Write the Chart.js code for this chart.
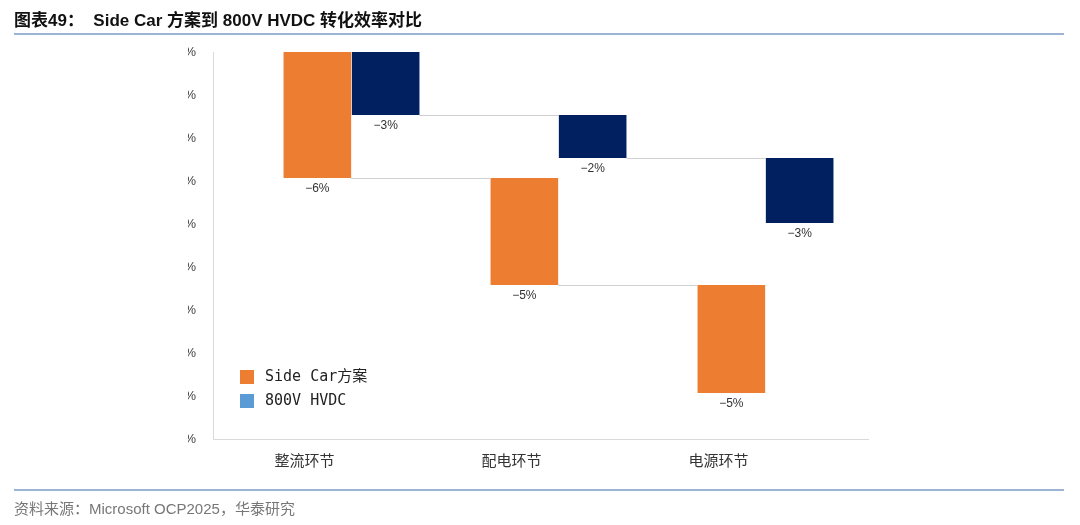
<!DOCTYPE html>
<html><head><meta charset="utf-8">
<script src="https://cdn.jsdelivr.net/npm/chart.js@4"></script>
<style>
body{margin:0;background:#fff;font-family:"Liberation Sans","Noto Sans CJK SC",sans-serif;}
#wrap{position:relative;width:1080px;height:525px;}
#title{position:absolute;left:14px;top:6px;font-size:17px;font-weight:bold;color:#111;}
.rule{position:absolute;left:14px;width:1050px;height:2px;background:#9db3d2;}
#src{position:absolute;left:14px;top:497px;font-size:15px;color:#777;}
canvas{position:absolute;left:0;top:0;}
</style></head><body>
<div id="wrap">
<canvas id="c" width="1080" height="525"></canvas>
<div id="title">图表49：&nbsp; Side Car 方案到 800V HVDC 转化效率对比</div>
<div class="rule" style="top:33px"></div>
<div class="rule" style="top:489px"></div>
<div id="src">资料来源：Microsoft OCP2025，华泰研究</div>
</div>
<script>
const categories = ['整流环节', '配电环节', '电源环节'];
const sideCarSteps = [-5.86, -4.98, -5.02];
const hvdcSteps = [-2.93, -2.0, -3.02];
const sideCarLabels = ['-6%', '-5%', '-5%'];
const hvdcLabels = ['-3%', '-2%', '-3%'];

const AXIS_X = 213; // y axis line sits left of the plot area, as in the source chart
const LABEL_SHIFT = -47; // category labels sit left of the bar groups

function floating(steps) {
  let cur = 0;
  return steps.map(s => { const r = [cur, cur + s]; cur += s; return r; });
}
const sideCarData = floating(sideCarSteps);
const hvdcData = floating(hvdcSteps);

const extras = {
  id: 'extras',
  afterDatasetsDraw(chart) {
    const ctx = chart.ctx;
    const y = chart.scales.y, x = chart.scales.x;
    const area = chart.chartArea;
    ctx.save();
    // axis lines
    ctx.strokeStyle = '#d9d9d9';
    ctx.lineWidth = 1;
    ctx.beginPath();
    ctx.moveTo(AXIS_X + 0.5, area.top);
    ctx.lineTo(AXIS_X + 0.5, area.bottom + 0.5);
    ctx.lineTo(area.right, area.bottom + 0.5);
    ctx.stroke();
    // connectors
    ctx.strokeStyle = '#d0d0d0';
    [0, 1].forEach(di => {
      const meta = chart.getDatasetMeta(di);
      const data = di === 0 ? sideCarData : hvdcData;
      for (let i = 0; i < data.length - 1; i++) {
        const a = meta.data[i], b = meta.data[i + 1];
        const yy = Math.round(y.getPixelForValue(data[i][1])) + 0.5;
        ctx.beginPath();
        ctx.moveTo(a.x + a.width / 2, yy);
        ctx.lineTo(b.x - b.width / 2, yy);
        ctx.stroke();
      }
    });
    // value labels
    ctx.fillStyle = '#333';
    ctx.font = '12px "Liberation Sans Narrow", "Liberation Sans", sans-serif';
    ctx.textAlign = 'center';
    ctx.textBaseline = 'top';
    [0, 1].forEach(di => {
      const meta = chart.getDatasetMeta(di);
      const data = di === 0 ? sideCarData : hvdcData;
      const labels = di === 0 ? sideCarLabels : hvdcLabels;
      meta.data.forEach((bar, i) => {
        ctx.fillText(labels[i].replace('-', '−'), bar.x, y.getPixelForValue(data[i][1]) + 5);
      });
    });
    // category labels
    ctx.font = '15px "Noto Sans CJK SC", sans-serif';
    ctx.fillStyle = '#333';
    categories.forEach((c, i) => {
      ctx.fillText(c, x.getPixelForValue(i) + LABEL_SHIFT, area.bottom + 14);
    });
    // legend
    const lx = AXIS_X + 27, ly = area.top + 318;
    ctx.font = '15px "DejaVu Sans Mono", "Noto Sans CJK SC", monospace';
    ctx.textAlign = 'left';
    ctx.textBaseline = 'middle';
    ctx.fillStyle = '#ED7D31';
    ctx.fillRect(lx, ly, 14, 14);
    ctx.fillStyle = '#5B9BD5';
    ctx.fillRect(lx, ly + 24, 14, 14);
    ctx.fillStyle = '#222';
    ctx.fillText('Side Car方案', lx + 25, ly + 7);
    ctx.fillText('800V HVDC', lx + 25, ly + 31);
    ctx.restore();
  }
};

new Chart(document.getElementById('c'), {
  type: 'bar',
  data: {
    labels: categories,
    datasets: [
      { label: 'Side Car方案', data: sideCarData, backgroundColor: '#ED7D31', categoryPercentage: 0.66, barPercentage: 0.99 },
      { label: '800V HVDC', data: hvdcData, backgroundColor: '#002060', categoryPercentage: 0.66, barPercentage: 0.99 }
    ]
  },
  options: {
    responsive: false,
    animation: false,
    layout: { padding: { left: 188, right: 211, top: 52, bottom: 46 } },
    plugins: { legend: { display: false }, tooltip: { enabled: false } },
    scales: {
      y: {
        min: -18, max: 0,
        ticks: { stepSize: 2, callback: v => (v === 0 ? '0' : '−' + Math.abs(v)) + '%', color: '#444', font: { size: 13, family: 'Liberation Sans' }, padding: 44 },
        grid: { display: false },
        border: { display: false },
        afterFit: s => { s.width = 60; }
      },
      x: {
        ticks: { display: false },
        grid: { display: false },
        border: { display: false },
        afterFit: s => { s.height = 40; }
      }
    }
  },
  plugins: [extras]
});
</script>
</body></html>
